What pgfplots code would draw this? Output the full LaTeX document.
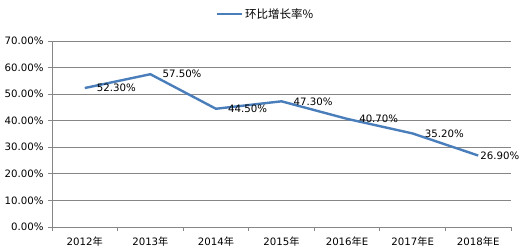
\documentclass[border=0pt]{standalone}
\usepackage{fontspec}
\setmainfont{DejaVu Sans}
\newfontfamily\cjk{Noto Sans CJK SC}
\usepackage{pgfplots}
\pgfplotsset{compat=1.18}
\definecolor{lineblue}{HTML}{4A7EBB}
\definecolor{gridgray}{HTML}{868686}
\newcommand{\lbl}{\fontsize{10.2bp}{12bp}\selectfont}
\begin{document}
\begin{tikzpicture}
\useasboundingbox (-52bp,-23bp) rectangle (480bp,227bp);
\begin{axis}[
  scale only axis,
  width=459bp, height=186bp,
  anchor=south west, at={(0,0)},
  xmin=-0.5, xmax=6.5, ymin=0, ymax=70,
  axis lines=left,
  axis line style={-, gridgray, line width=0.8bp},
  xtick={0,1,2,3,4,5,6},
  xticklabels={2012{\cjk 年},2013{\cjk 年},2014{\cjk 年},2015{\cjk 年},2016{\cjk 年}E,2017{\cjk 年}E,2018{\cjk 年}E},
  major x tick style={draw=none},
  minor xtick={-0.5,0.5,1.5,2.5,3.5,4.5,5.5,6.5},
  minor x tick style={gridgray, line width=0.8bp},
  minor tick length=4bp,
  major tick length=4bp,
  tick align=outside,
  ytick={0,10,20,30,40,50,60,70},
  ytick style={gridgray, line width=0.8bp},
  ymajorgrids,
  major grid style={gridgray, line width=0.8bp},
  /pgf/number format/assume math mode=true,
  yticklabel={\pgfmathprintnumber[fixed,fixed zerofill,precision=2]{\tick}\%},
  ticklabel style={font=\lbl, text=black},
  xticklabel style={yshift=-2bp},
  yticklabel style={xshift=-1bp},
  legend style={at={(0.5,1)}, anchor=center, xshift=-16bp, yshift=27bp, draw=none, fill=none, font=\fontsize{11.5bp}{13bp}\selectfont\cjk, legend columns=-1},
  legend image code/.code={\draw[#1] (0bp,0bp) -- (25bp,0bp);},
  every node near coord/.append style={anchor=west, font=\lbl, text=black, inner sep=0pt},
]
\addplot[lineblue, line width=2.4bp, mark=none] coordinates {
  (0,52.3) (1,57.5) (2,44.5) (3,47.3) (4,40.7) (5,35.2) (6,26.9)
};
\addlegendentry{环比增长率\%}
\addplot[draw=none, mark=none, forget plot,
  nodes near coords={\pgfmathprintnumber[fixed,fixed zerofill,precision=2]{\pgfplotspointmeta}\%},
  every node near coord/.append style={xshift=12bp}] coordinates {
  (0,52.3) (1,57.5) (2,44.5) (3,47.3) (4,40.7) (5,35.2)
};
\addplot[draw=none, mark=none, forget plot,
  nodes near coords={\pgfmathprintnumber[fixed,fixed zerofill,precision=2]{\pgfplotspointmeta}\%},
  every node near coord/.append style={xshift=2bp}] coordinates {
  (6,26.9)
};
\end{axis}
\end{tikzpicture}
\end{document}
